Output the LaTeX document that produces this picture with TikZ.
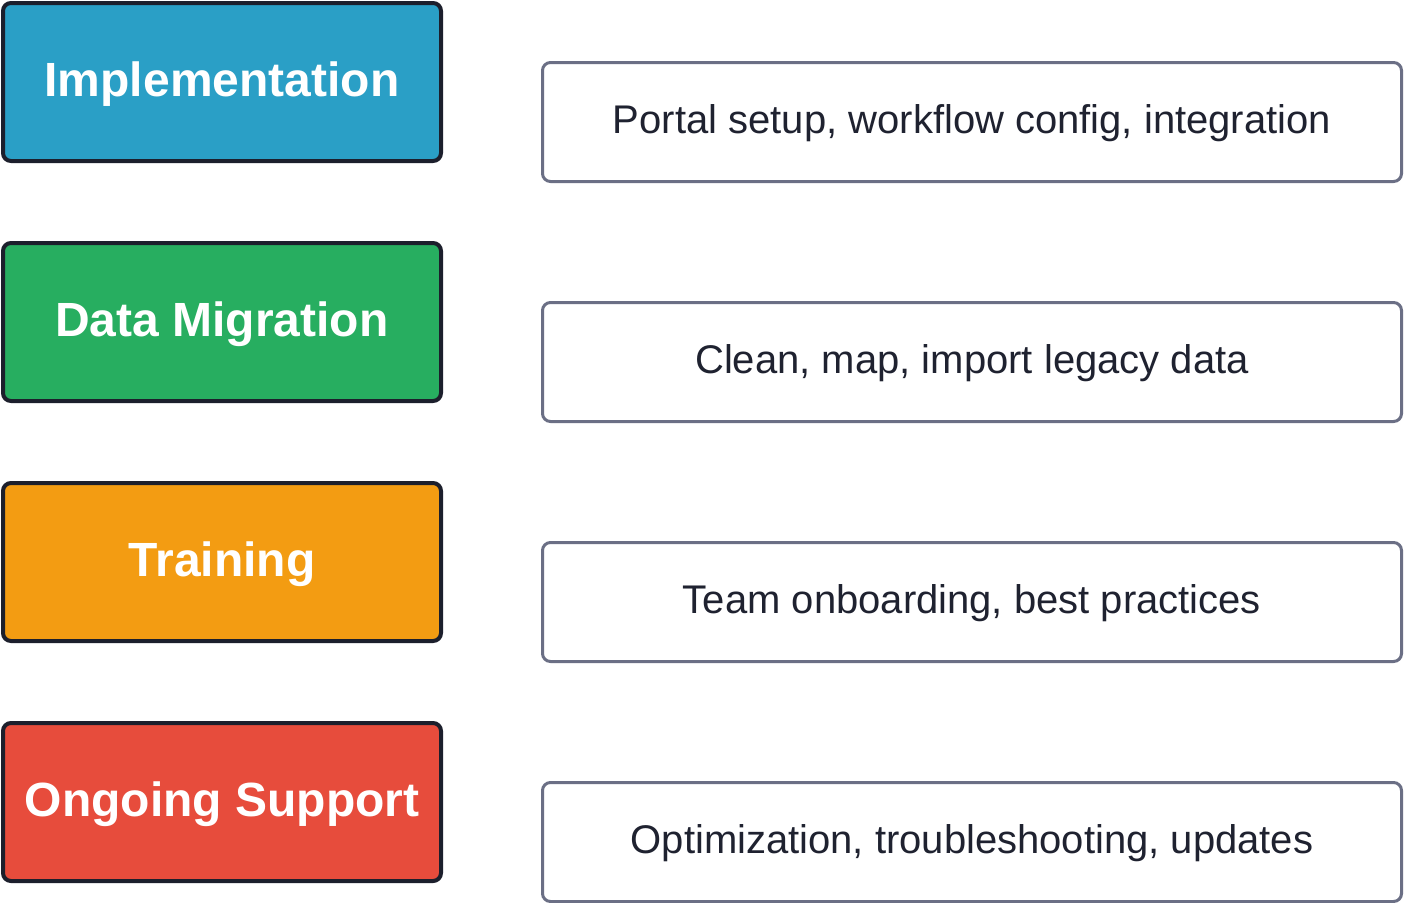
\documentclass[tikz,border=0pt]{standalone}
\usepackage{fontspec}
\setmainfont{Liberation Sans}
\definecolor{cblue}{HTML}{2A9FC6}
\definecolor{cgreen}{HTML}{27AE60}
\definecolor{corange}{HTML}{F39C12}
\definecolor{cred}{HTML}{E74C3C}
\definecolor{cdark}{HTML}{1C1F2C}
\definecolor{cslate}{HTML}{6B6F85}
\definecolor{ctext}{HTML}{1F2230}
\tikzset{
  phase/.style={draw=cdark, line width=4pt, rounded corners=8pt,
    minimum width=438pt, minimum height=158pt, inner sep=0pt,
    text=white, font=\fontsize{48}{58}\selectfont\bfseries,
    text height=35pt, text depth=7pt},
  desc/.style={draw=cslate, line width=3pt, rounded corners=8pt, fill=white,
    minimum width=859pt, minimum height=119pt, inner sep=0pt,
    text=ctext, font=\fontsize{40}{48}\selectfont,
    text height=28pt, text depth=6pt}
}
\begin{document}
\begin{tikzpicture}[x=1pt,y=-1pt]
\useasboundingbox[fill=white] (0,0) rectangle (1404,902);
\node[phase, fill=cblue]   (p1) at (222,82)  {Implementation};
\node[phase, fill=cgreen]  (p2) at (222,322) {Data Migration};
\node[phase, fill=corange] (p3) at (222,562) {Training};
\node[phase, fill=cred]    (p4) at (222,802) {Ongoing Support};
\node[desc] (d1) at (972,122) {Portal setup, workflow config, integration};
\node[desc] (d2) at (972,362) {Clean, map, import legacy data};
\node[desc] (d3) at (972,602) {Team onboarding, best practices};
\node[desc] (d4) at (972,842) {Optimization, troubleshooting, updates};
\end{tikzpicture}
\end{document}
